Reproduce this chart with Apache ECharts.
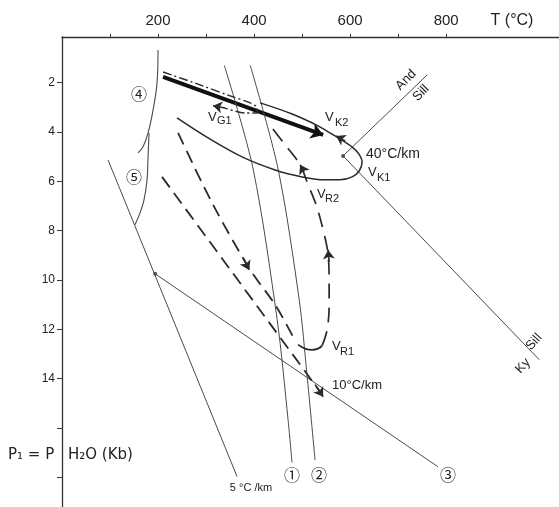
<!DOCTYPE html>
<html>
<head>
<meta charset="utf-8">
<script src="https://cdn.jsdelivr.net/npm/echarts@6/dist/echarts.min.js"></script>
<style>
  html, body { margin: 0; padding: 0; background: #fff; }
  #chart { width: 559px; height: 507px; }
</style>
</head>
<body>
<div id="chart"></div>
<script>
// Axis ticks and labels (temperature in °C, pressure in kb)
const tempTicks = [100, 200, 300, 400, 500, 600, 700, 800];
const tempLabels = [200, 400, 600, 800];
const pressTicks = [2, 4, 6, 8, 10, 12, 14, 16, 18];
const pressLabels = [2, 4, 6, 8, 10, 12, 14];

// Reaction curves, each point is [T (°C), P (kb)]
const curve1 = [[338, 1.3], [398, 5.5], [448, 11.6], [471, 15.7], [479, 17.4]];
const curve2 = [[392, 1.3], [450, 5.5], [494, 10.8], [510, 13.8], [527, 17.3]];
const curve3 = [[194, 9.75], [783, 17.57]];
const curve4 = [[200, 0.68], [197.9, 2.01], [189.6, 3.11], [179.2, 4.04], [168.8, 4.6], [158.3, 4.85]];
const curve5 = [[181.3, 4.04], [179.2, 5.01], [177.1, 5.94], [170.8, 6.75], [162.5, 7.28], [152.1, 7.76]];
const geotherm5 = [[95.8, 5.13], [364.6, 17.97]];
const andSill = [[585.4, 4.97], [760.4, 1.69]];
const sillKy = [[585.4, 4.97], [993.8, 13.23]];
const nodes = [[585.4, 4.97], [194, 9.75]];

// P-T paths
const pathK = [[239.6, 3.43], [304.2, 4.24], [375, 5.01], [443.8, 5.54], [500, 5.82], [547.9, 5.94],
  [579.2, 5.94], [604.2, 5.82], [618.8, 5.58], [625, 5.21], [616.7, 4.85], [604.2, 4.61],
  [585.4, 4.36], [558.3, 4.04], [533.3, 3.75], [479.2, 3.27], [412.5, 2.82]];
const pathG = [[210.4, 1.57], [287.5, 2.09], [350, 2.54], [391.7, 2.82], [406.3, 3.03],
  [406.3, 3.23], [381.3, 3.23], [339.6, 3.03]];
const pathBold = [[210.4, 1.77], [543.8, 4.12]];
const pathA = [[208.3, 5.82], [537.5, 14.53]];
const pathB = [[241.7, 4.04], [314.6, 6.95], [391.7, 9.58], [443.8, 11.0], [481.3, 12.3]];
const pathR1 = [[491.7, 12.62], [506.3, 12.78], [520.8, 12.83], [533.3, 12.78], [541.7, 12.66]];
const pathR2 = [[541.7, 12.66], [552.1, 12.02], [556.3, 11.0], [556.3, 10.19], [554.2, 8.98],
  [543.8, 7.97], [529.2, 6.95], [512.5, 6.14], [495.8, 5.33], [464.6, 4.52], [429.2, 3.63]];

// Arrowheads: short segments [from, to] along the paths
const arrowHeads = [
  [[589.6, 4.36], [570.8, 4.16]],
  [[339.6, 3.03], [314.6, 2.94]],
  [[377.1, 9.1], [389.6, 9.59]],
  [[527.1, 14.24], [543.8, 14.73]],
  [[556.3, 9.26], [554.2, 8.78]],
  [[504.2, 5.62], [495.8, 5.33]]
];

const ink = '#2a2a2a';
const thin = '#4a4a4a';
const FONT = 'Liberation Sans';

function curve(data, width, color, type, smooth) {
  return {
    type: 'line', data: data, showSymbol: false, symbol: 'none', silent: true,
    smooth: smooth || 0, animation: false,
    lineStyle: { color: color, width: width, type: type || 'solid' }
  };
}

const series = [
  curve(curve1, 1, thin, 'solid', 0.3),
  curve(curve2, 1, thin, 'solid', 0.3),
  curve(curve3, 1, thin),
  curve(curve4, 1.1, thin, 'solid', 0.4),
  curve(curve5, 1.1, thin, 'solid', 0.4),
  curve(geotherm5, 1, thin),
  curve(andSill, 1, thin),
  curve(sillKy, 1, thin),
  curve(pathK, 1.5, ink, 'solid', 0.35),
  curve(pathG, 1.4, ink, [9, 3, 2, 3], 0.3),
  curve(pathA, 1.8, ink, [13, 7]),
  curve(pathB, 1.8, ink, [13, 7], 0.3),
  curve(pathR1, 1.8, ink, 'solid', 0.5),
  curve(pathR2, 1.7, ink, [15, 9], 0.35),
  {
    type: 'lines', coordinateSystem: 'cartesian2d', silent: true, animation: false,
    data: [{ coords: pathBold }],
    symbol: ['none', 'arrow'], symbolSize: [8, 12],
    lineStyle: { color: '#111', width: 4, opacity: 1 }
  },
  {
    type: 'lines', coordinateSystem: 'cartesian2d', silent: true, animation: false,
    data: arrowHeads.map(function (a) { return { coords: a }; }),
    symbol: ['none', 'arrow'], symbolSize: [6, 9],
    lineStyle: { color: ink, width: 1.6, opacity: 1 }
  },
  {
    type: 'scatter', data: nodes, symbol: 'circle', symbolSize: 4, silent: true,
    itemStyle: { color: ink }, animation: false
  }
];

function txt(x, y, s, size, opts) {
  const o = opts || {};
  return {
    type: 'text', x: x, y: y, rotation: o.rot || 0, silent: true,
    style: {
      text: s, fontSize: size, fontFamily: o.font || FONT, fill: '#222',
      align: o.align || 'left', verticalAlign: 'middle'
    }
  };
}

const CIRC = 'Noto Sans CJK SC';
const graphics = [
  txt(512, 21, 'T (°C)', 16, { align: 'center' }),
  txt(8, 455, 'P₁ = P', 15, { font: 'DejaVu Sans' }),
  txt(68, 455, 'H₂O (Kb)', 15, { font: 'DejaVu Sans' }),
  txt(292, 475, '①', 16, { align: 'center', font: CIRC }),
  txt(319, 475, '②', 16, { align: 'center', font: CIRC }),
  txt(448, 475, '③', 16, { align: 'center', font: CIRC }),
  txt(139, 94, '④', 16, { align: 'center', font: CIRC }),
  txt(134, 177, '⑤', 16, { align: 'center', font: CIRC }),
  txt(251, 488, '5 °C /km', 11, { align: 'center' }),
  txt(332, 385, '10°C/km', 13),
  txt(366, 154, '40°C/km', 14),
  txt(325, 117, 'V', 13), txt(335, 123, 'K2', 11),
  txt(368, 172, 'V', 13), txt(377, 178, 'K1', 11),
  txt(208, 117, 'V', 13), txt(217, 121, 'G1', 11),
  txt(317, 194, 'V', 13), txt(325, 199, 'R2', 11),
  txt(332, 346, 'V', 13), txt(340, 352, 'R1', 11),
  txt(406, 80, 'And', 13, { align: 'center', rot: Math.PI / 4 }),
  txt(421, 93, 'Sill', 13, { align: 'center', rot: Math.PI / 4 }),
  txt(534, 342, 'Sill', 13, { align: 'center', rot: 0.84 }),
  txt(523, 366, 'Ky', 13, { align: 'center', rot: 0.84 })
];

const chart = echarts.init(document.getElementById('chart'), null, { renderer: 'canvas' });
chart.setOption({
  backgroundColor: '#fff',
  animation: false,
  grid: { left: 62, top: 37, right: 0, bottom: 0, containLabel: false },
  xAxis: {
    type: 'value', position: 'top', min: 0, max: 1035,
    axisLine: { show: true, lineStyle: { color: '#333', width: 1.3 } },
    axisTick: { show: true, customValues: tempTicks, length: 3, lineStyle: { color: '#333' } },
    axisLabel: { customValues: tempLabels, margin: 9, fontSize: 15, fontFamily: FONT, color: '#222' },
    splitLine: { show: false }
  },
  yAxis: {
    type: 'value', inverse: true, min: 0.15, max: 19.2,
    axisLine: { show: true, lineStyle: { color: '#333', width: 1.3 } },
    axisTick: { show: true, customValues: pressTicks, length: 5, lineStyle: { color: '#333' } },
    axisLabel: { customValues: pressLabels, margin: 7, fontSize: 12, fontFamily: FONT, color: '#222' },
    splitLine: { show: false }
  },
  series: series,
  graphic: graphics
});
</script>
</body>
</html>
